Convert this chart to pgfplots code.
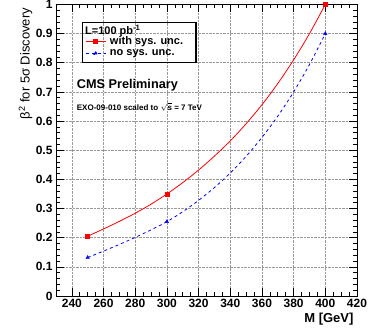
\documentclass[border=0pt]{standalone}
\usepackage{pgfplots}
\pgfplotsset{compat=1.18}
\usepackage{fontspec}
\setmainfont{Liberation Sans}
\begin{document}
\begin{tikzpicture}
\begin{axis}[
  at={(0,0)}, anchor=south west,
  scale only axis,
  width=301pt, height=291.5pt,
  xmin=230, xmax=420, ymin=0, ymax=1,
  xtick={240,260,...,420},
  ytick={0,0.1,...,1.0},
  minor x tick num=3,
  minor y tick num=4,
  tick align=inside,
  major tick length=8pt,
  minor tick length=4pt,
  every tick/.style={black, line width=0.6pt},
  axis line style={line width=0.8pt},
  grid=major,
  major grid style={gray!80, densely dotted, line width=0.6pt},
  /pgf/number format/assume math mode=true,
  tick label style={font=\bfseries\fontsize{12}{12}\selectfont},
  xlabel={M [GeV]},
  xlabel style={font=\bfseries\fontsize{13}{13}\selectfont, at={(axis description cs:1,0)}, anchor=north east, yshift=-14pt},
  ylabel={β\textsuperscript{2} for 5σ Discovery},
  ylabel style={font=\fontsize{13}{13}\selectfont, at={(axis description cs:-0.067,1)}, anchor=south east},
  legend style={at={(axis description cs:0.0963,0.895)}, anchor=north west, draw=none, fill=none,
    inner sep=0pt, row sep=2pt, font=\bfseries\fontsize{11}{11}\selectfont,
    nodes={inner sep=1pt}},
  legend cell align=left,
  legend image code/.code={\draw[mark repeat=2,mark phase=2,#1] plot coordinates {(0pt,0pt)(10pt,0pt)(20pt,0pt)};
    \path (23pt,0pt);},
]
% curves
\addplot[red, line width=0.8pt, smooth, forget plot] coordinates {
  (250,0.205) (260,0.230) (270,0.256) (280,0.284) (290,0.315) (300,0.35) (310,0.389) (320,0.432)
  (330,0.480) (340,0.532) (350,0.591) (360,0.656) (370,0.729) (380,0.810) (390,0.900) (400,1.0)};
\addplot[blue, line width=0.8pt, dash pattern=on 3pt off 3pt, smooth, forget plot] coordinates {
  (250,0.132) (260,0.154) (270,0.177) (280,0.201) (290,0.227) (300,0.255) (310,0.289) (320,0.328)
  (330,0.372) (340,0.422) (350,0.479) (360,0.544) (370,0.617) (380,0.700) (390,0.794) (400,0.9)};
% points
\addplot[only marks, red, mark=square*, mark size=2pt, forget plot] coordinates {(250,0.205) (300,0.35) (400,1.0)};
\addplot[only marks, blue, mark=triangle*, mark size=2pt, forget plot] coordinates {(250,0.132) (300,0.255) (400,0.9)};
\addlegendimage{red, line width=0.8pt, mark=square*, mark size=2pt}
\addlegendentry{with sys. unc.}
\addlegendimage{blue, line width=0.8pt, dash pattern=on 3pt off 3pt, mark=triangle*, mark size=2pt}
\addlegendentry{no sys. unc.}
% legend box and title
\draw[line width=1.3pt] (axis description cs:0.0887,0.9376) rectangle (axis description cs:0.465,0.8017);
\node[anchor=base west, inner sep=0pt, font=\bfseries\fontsize{11}{11}\selectfont] at (axis description cs:0.0963,0.8978) {L=100 pb\textsuperscript{-1}};
\node[anchor=base west, inner sep=0pt, font=\bfseries\fontsize{12.7}{12.7}\selectfont] at (axis description cs:0.0688,0.7125) {CMS Preliminary};
\node[anchor=base west, inner sep=0pt, font=\bfseries\fontsize{8}{8}\selectfont] at (axis description cs:0.0688,0.638) {EXO-09-010 scaled to $\sqrt{\mbox{s}}$ = 7 TeV};
\end{axis}
\pgfresetboundingbox
\path (-56pt,-38pt) rectangle (313pt,296pt);
\end{tikzpicture}
\end{document}
